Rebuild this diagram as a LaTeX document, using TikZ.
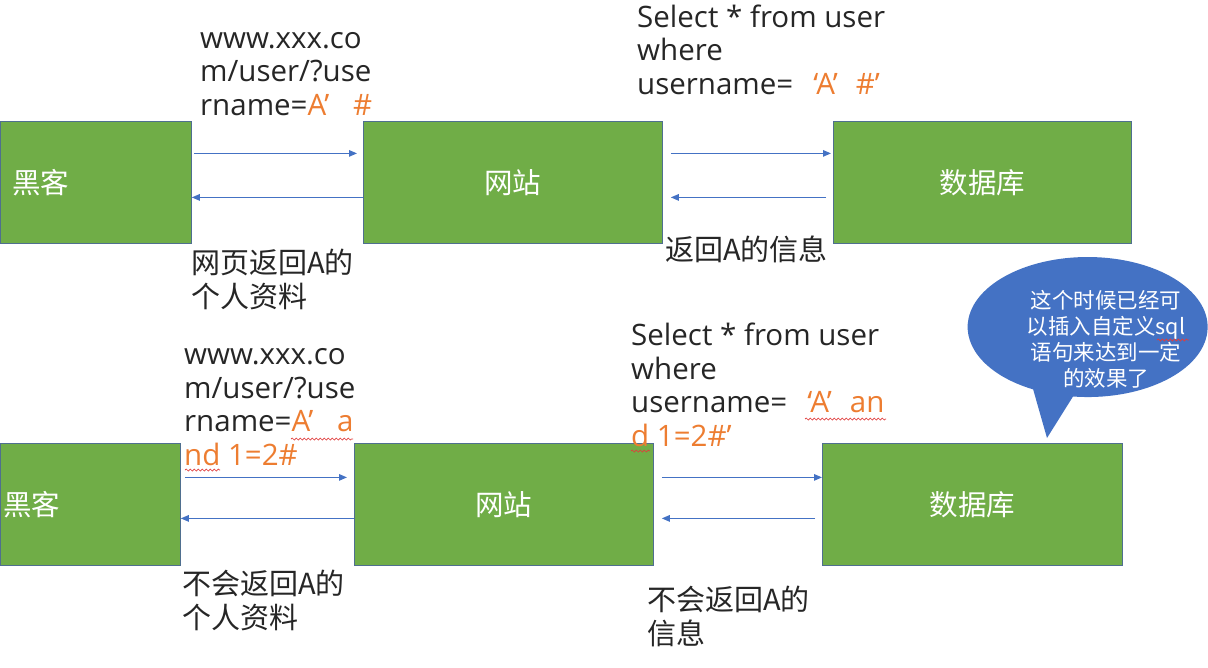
\documentclass[tikz,border=0pt]{standalone}
\usepackage{fontspec}
\setmainfont{Open Sans}
\newfontfamily\cjk{Noto Sans CJK SC}
\usetikzlibrary{arrows.meta,decorations.pathmorphing}
\definecolor{boxgreen}{HTML}{70AD47}
\definecolor{boxline}{HTML}{4F6F8F}
\definecolor{arrowblue}{HTML}{4472C4}
\definecolor{orng}{HTML}{ED7D31}
\definecolor{txt}{HTML}{262626}
\definecolor{bubblecol}{HTML}{4472C4}
\definecolor{squig}{HTML}{E03C3C}
\begin{document}
\begin{tikzpicture}[x=1pt,y=-1pt,
  box/.style={draw=boxline, line width=0.8pt, fill=boxgreen, minimum height=122pt,
    anchor=north west, inner sep=0, text=white, font=\cjk\fontsize{28.5}{30}\selectfont},
  boxlbl/.style={anchor=west, inner sep=0, text=white, font=\cjk\fontsize{28.5}{30}\selectfont},
  lbl/.style={anchor=base west, inner sep=0, align=left, text=txt, font=\fontsize{29.5}{33.5}\selectfont},
  cjklbl/.style={anchor=base west, inner sep=0, align=left, text=txt, font=\cjk\fontsize{29}{33.5}\selectfont},
  conn/.style={draw=arrowblue, line width=1.2pt, -{Triangle[length=8pt,width=6.5pt]}},
  wavy/.style={draw=squig, line width=0.7pt, decorate, decoration={snake, amplitude=1pt, segment length=4pt}}
]
\useasboundingbox[fill=white] (0,0) rectangle (1208,667);

% top row
\node[box, minimum width=191pt] (hk1) at (0,121) {};
\node[boxlbl] (hk1t) at ([xshift=12pt]hk1.west) {黑客};
\node[box, minimum width=299pt] (wz1) at (363,121) {网站};
\node[box, minimum width=298pt] (db1) at (833,121) {数据库};

% bottom row
\node[box, minimum width=180pt] (hk2) at (0,443) {};
\node[boxlbl] (hk2t) at ([xshift=3pt]hk2.west) {黑客};
\node[box, minimum width=299pt] (wz2) at (354,443) {网站};
\node[box, minimum width=300pt] (db2) at (822,443) {数据库};

% connectors top
\draw[conn] ([xshift=2pt,yshift=29pt]hk1.east) -- ([xshift=-6pt,yshift=29pt]wz1.west);
\draw[conn] ([yshift=-15pt]wz1.west) -- ([yshift=-15pt]hk1.east);
\draw[conn] ([xshift=8pt,yshift=29pt]wz1.east) -- ([xshift=-2pt,yshift=29pt]db1.west);
\draw[conn] ([xshift=-7pt,yshift=-15pt]db1.west) -- ([xshift=8pt,yshift=-15pt]wz1.east);

% connectors bottom
\draw[conn] ([xshift=4pt,yshift=27pt]hk2.east) -- ([xshift=-7pt,yshift=27pt]wz2.west);
\draw[conn] ([yshift=-14pt]wz2.west) -- ([yshift=-14pt]hk2.east);
\draw[conn] ([xshift=8pt,yshift=27pt]wz2.east) -- ([yshift=27pt]db2.west);
\draw[conn] ([xshift=-7pt,yshift=-14pt]db2.west) -- ([xshift=8pt,yshift=-14pt]wz2.east);

% top texts (anchor = baseline of last line)
\node[lbl] (url1) at (200,115) {www.xxx.co\\m/user/?use\\rname={\color{orng}A’\hspace{24pt}\#}};
\node[lbl] (sql1) at (637,94) {Select * from user\\where\\username=\hspace{20pt}{\color{orng}‘A’\hspace{18pt}\#’}};
\node[cjklbl] (ret1) at (191,307) {网页返回A的\\个人资料};
\node[cjklbl] (ret2) at (665,260) {返回A的信息};

% bottom texts
\node[lbl] (url2) at (184,465) {www.xxx.co\\m/user/?use\\rname={\color{orng}A’\hspace{24pt}a}\\{\color{orng}nd 1=2\#}};
\node[lbl] (sql2) at (631,446) {Select * from user\\where\\username=\hspace{20pt}{\color{orng}‘A’\hspace{18pt}an}\\{\color{orng}d 1=2\#’}};
\node[cjklbl] (ret3) at (182,628) {不会返回A的\\个人资料};
\node[cjklbl] (ret4) at (647,644) {不会返回A的\\信息};

% wavy underlines
\draw[wavy] (291,439) -- (353,439);
\draw[wavy] (185,470) -- (220,470);
\draw[wavy] (805,419) -- (886,419);
\draw[wavy] (631,451) -- (650,451);

% speech bubble
\fill[bubblecol] (1073,396.5) arc[start angle=97, end angle=-243, x radius=120, y radius=70] -- (1047,438) -- cycle;
\node[align=center, inner sep=0, text=white, font=\cjk\fontsize{21.5}{26}\selectfont] (note) at (1106,339)
  {这个时候已经可\\以插入自定义sql\\语句来达到一定\\的效果了};
\draw[wavy] (1157,340) -- (1189,340);
\end{tikzpicture}
\end{document}
